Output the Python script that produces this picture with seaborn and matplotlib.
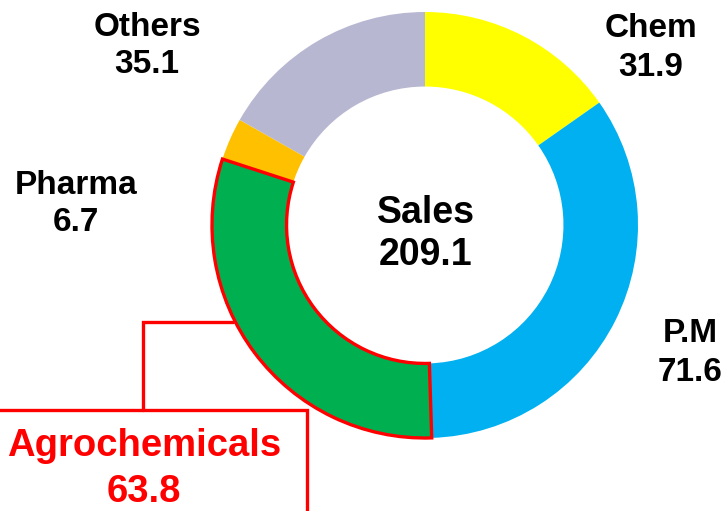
import matplotlib
matplotlib.use("Agg")
import matplotlib.pyplot as plt
import seaborn as sns

categories = ["Chem", "P.M", "Agrochemicals", "Pharma", "Others"]
values = [31.9, 71.6, 63.8, 6.7, 35.1]
colors = ["#FFFF00", "#00B0F0", "#00B050", "#FFC000", "#B8B7D1"]
total_label = "Sales"
total_value = 209.1

sns.set_theme(style="white")
plt.rcParams['font.family'] = ['Liberation Sans', 'DejaVu Sans']

W, H = 728, 511
fig = plt.figure(figsize=(W / 100, H / 100), dpi=100)
ax = fig.add_axes([0, 0, 1, 1])

def Y(y):
    return H - y

cx, cy, R = 425, Y(225), 213
wedges, _ = ax.pie(values, colors=colors, startangle=90, counterclock=False,
                   radius=R, center=(cx, cy), frame=True,
                   wedgeprops=dict(width=R * 0.35, linewidth=0))
ax.set_xlim(0, W)
ax.set_ylim(0, H)
ax.set_aspect('equal')
ax.axis('off')

# highlight Agrochemicals
wedges[2].set_edgecolor("#FF0000")
wedges[2].set_linewidth(2.4)
wedges[2].set_zorder(3)

lab_kw = dict(ha='center', va='center', fontsize=24, fontweight='bold',
              color='black')
pos = {"Chem": (651, 48, 1.35), "P.M": (690, 353, 1.3),
       "Pharma": (76, 204, 1.25), "Others": (147, 46, 1.25)}
for c, v in zip(categories, values):
    if c in pos:
        x, y, ls = pos[c]
        ax.text(x, Y(y), f"{c}\n{v}", linespacing=ls, **lab_kw)

ax.text(426, Y(234), f"{total_label}\n{total_value}", ha='center', va='center',
        fontsize=27, fontweight='bold', color='black', linespacing=1.2)

ax.text(144, Y(469), f"{categories[2]}\n{values[2]}", ha='center', va='center',
        fontsize=27.5, fontweight='bold', color='#FF0000', linespacing=1.35)

red = "#FF0000"
ax.plot([-10, 307, 307], [Y(410), Y(410), Y(530)], color=red, lw=2.4,
        solid_joinstyle='miter', clip_on=False)
ax.plot([143, 143, 233], [Y(410), Y(322), Y(322)], color=red, lw=2.4,
        solid_joinstyle='miter')

fig.savefig("out.png", dpi=100)
